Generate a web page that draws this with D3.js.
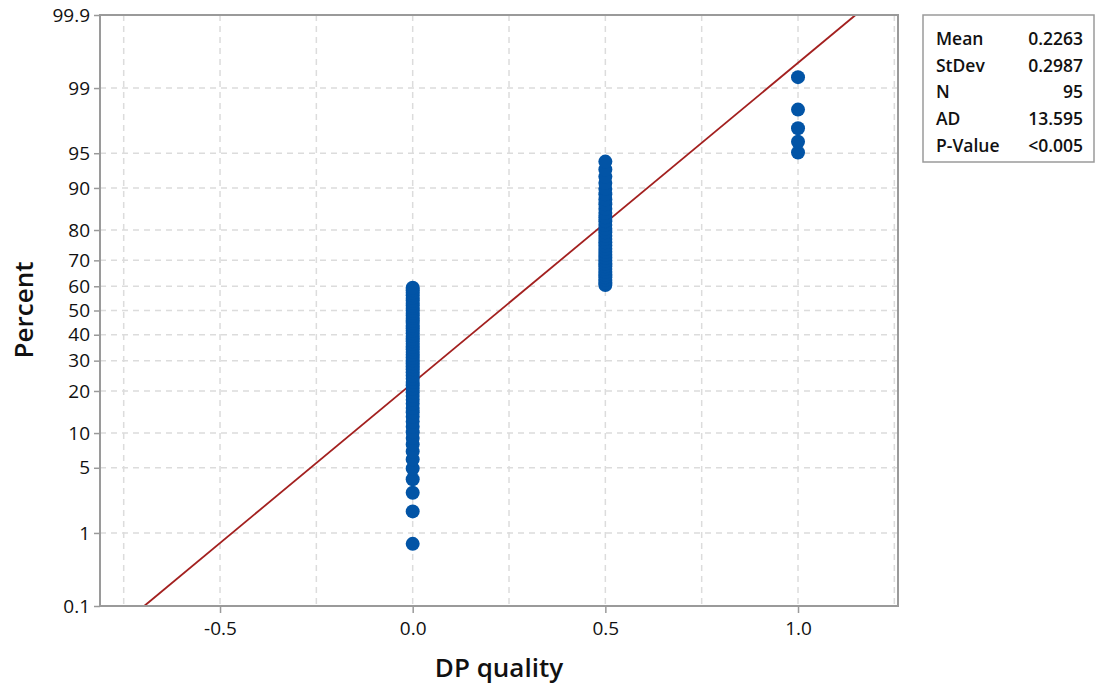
<!DOCTYPE html>
<html><head><meta charset="utf-8">
<script src="https://cdn.jsdelivr.net/npm/d3@7"></script>
<style>
body{margin:0;background:#fff;}
text{font-family:"Open Sans","Noto Sans",sans-serif;}
</style></head>
<body><svg id="chart" width="1098" height="686"></svg>
<script>
// ---- data ----
const dpCategories = [0.0, 0.5, 1.0];
const dpCounts = [57, 33, 5];
const fitMean = 0.2263;
const fitStDev = 0.2987;
const statLabels = ["Mean", "StDev", "N", "AD", "P-Value"];
const statValues = ["0.2263", "0.2987", "95", "13.595", "<0.005"];
const yTickLabels = [0.1, 1, 5, 10, 20, 30, 40, 50, 60, 70, 80, 90, 95, 99, 99.9];
const xTickLabels = [-0.5, 0.0, 0.5, 1.0];
const xGridValues = [-0.75, -0.5, -0.25, 0, 0.25, 0.5, 0.75, 1.0, 1.25];

// inverse normal CDF (Acklam)
function probit(p){
  const a=[-3.969683028665376e+01,2.209460984245205e+02,-2.759285104469687e+02,1.383577518672690e+02,-3.066479806614716e+01,2.506628277459239e+00];
  const b=[-5.447609879822406e+01,1.615858368580409e+02,-1.556989798598866e+02,6.680131188771972e+01,-1.328068155288572e+01];
  const c=[-7.784894002430293e-03,-3.223964580411365e-01,-2.400758277161838e+00,-2.549732539343734e+00,4.374664141464968e+00,2.938163982698783e+00];
  const d=[7.784695709041462e-03,3.224671290700398e-01,2.445134137142996e+00,3.754408661907416e+00];
  const pl=0.02425, ph=1-pl; let q,r;
  if(p<pl){q=Math.sqrt(-2*Math.log(p));return (((((c[0]*q+c[1])*q+c[2])*q+c[3])*q+c[4])*q+c[5])/((((d[0]*q+d[1])*q+d[2])*q+d[3])*q+1);}
  if(p<=ph){q=p-0.5;r=q*q;return (((((a[0]*r+a[1])*r+a[2])*r+a[3])*r+a[4])*r+a[5])*q/(((((b[0]*r+b[1])*r+b[2])*r+b[3])*r+b[4])*r+1);}
  q=Math.sqrt(-2*Math.log(1-p));return -(((((c[0]*q+c[1])*q+c[2])*q+c[3])*q+c[4])*q+c[5])/((((d[0]*q+d[1])*q+d[2])*q+d[3])*q+1);
}

// expand sorted observations and median-rank plotting positions
const obs = [];
dpCategories.forEach((v,k)=>{ for(let j=0;j<dpCounts[k];j++) obs.push(v); });
const N = obs.length;
const points = obs.map((v,i)=>({x:v, p:(i+1-0.3)/(N+0.4)}));

const svg = d3.select("#chart");
const L=100, R=898, T=15, B=606;
const x = d3.scaleLinear().domain([-0.8115,1.2595]).range([L,R]);
const zMax = probit(0.999);
const y = d3.scaleLinear().domain([-zMax,zMax]).range([B,T]);
const yp = p => y(probit(p/100));

// grid
const grid = svg.append("g").attr("stroke","#dcdcdc").attr("stroke-width",1.5).attr("stroke-dasharray","6,5");
grid.selectAll("line.v").data(xGridValues).join("line").attr("class","v")
  .attr("x1",d=>x(d)).attr("x2",d=>x(d)).attr("y1",T).attr("y2",B);
grid.selectAll("line.h").data(yTickLabels.slice(1,-1)).join("line").attr("class","h")
  .attr("x1",L).attr("x2",R).attr("y1",d=>yp(d)).attr("y2",d=>yp(d));

// fit line
const fitLine = [0.1,99.9].map(p=>({x:fitMean+fitStDev*probit(p/100), p:p}));
svg.append("path").datum(fitLine)
  .attr("d", d3.line().x(d=>x(d.x)).y(d=>yp(d.p)))
  .attr("stroke","#a3201f").attr("stroke-width",1.8).attr("fill","none");

// points
svg.append("g").selectAll("circle").data(points).join("circle")
  .attr("cx",d=>x(d.x)).attr("cy",d=>yp(d.p*100)).attr("r",7).attr("fill","#0254a6");

// frame
svg.append("rect").attr("x",L).attr("y",T).attr("width",R-L).attr("height",B-T)
  .attr("fill","none").attr("stroke","#9a9a9a").attr("stroke-width",2);

// axes
const xAxis = d3.axisBottom(x).tickValues(xTickLabels).tickFormat(d=>d.toFixed(1)).tickSizeOuter(0).tickSize(7).tickPadding(9);
const gx = svg.append("g").attr("transform",`translate(0,${B})`).call(xAxis);
gx.select(".domain").remove();
gx.selectAll(".tick line").attr("stroke","#9a9a9a").attr("stroke-width",1.5);
gx.selectAll("text").style("font-size","19px").attr("fill","#111").attr("font-weight",500);

const yAxis = d3.axisLeft(y).tickValues(yTickLabels.map(p=>probit(p/100))).tickFormat((d,i)=>String(yTickLabels[i])).tickSize(6).tickPadding(4);
const gy = svg.append("g").attr("transform",`translate(${L},0)`).call(yAxis);
gy.select(".domain").remove();
gy.selectAll(".tick line").attr("stroke","#9a9a9a").attr("stroke-width",1.5);
gy.selectAll("text").style("font-size","19px").attr("fill","#111").attr("font-weight",500);

// titles
svg.append("text").attr("x",499).attr("y",677).attr("text-anchor","middle")
  .style("font-size","26px").attr("font-weight",600).attr("fill","#111").text("DP quality");
svg.append("text").attr("transform","translate(33,310) rotate(-90)").attr("text-anchor","middle")
  .style("font-size","26px").attr("font-weight",600).attr("fill","#111").text("Percent");

// stats box
const box = svg.append("g");
box.append("rect").attr("x",923).attr("y",15).attr("width",171).attr("height",147)
  .attr("fill","#fff").attr("stroke","#9a9a9a").attr("stroke-width",1.5);
statLabels.forEach((lab,i)=>{
  const yy = 45 + i*26.7;
  box.append("text").attr("x",936).attr("y",yy).style("font-size","17.5px").attr("font-weight",600).attr("fill","#111").text(lab);
  box.append("text").attr("x",1083).attr("y",yy).attr("text-anchor","end").style("font-size","17.5px").attr("font-weight",600).attr("fill","#111").text(statValues[i]);
});
</script></body></html>
